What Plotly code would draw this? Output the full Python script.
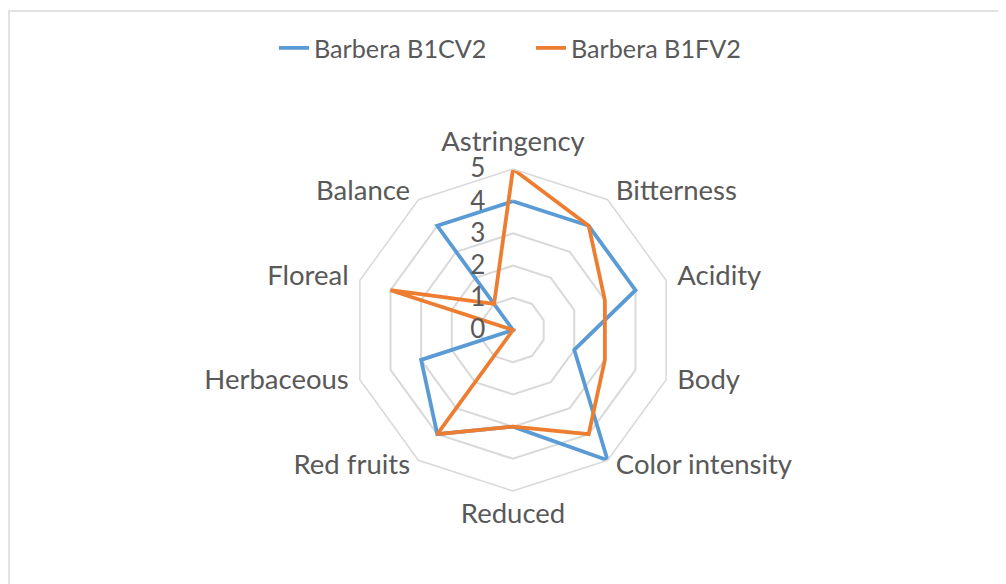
import plotly.graph_objects as go

categories = ["Astringency", "Bitterness", "Acidity", "Body", "Color intensity",
              "Reduced", "Red fruits", "Herbaceous", "Floreal", "Balance"]
b1cv2 = [4, 4, 4, 2, 5, 3, 4, 3, 0, 4]
b1fv2 = [5, 4, 3, 3, 4, 3, 4, 0, 4, 1]
radial_ticks = [0, 1, 2, 3, 4, 5]
label_positions = ["top center", "middle right", "middle right", "middle right", "middle right",
                   "bottom center", "middle left", "middle left", "middle left", "middle left"]

FONT = "Lato"
TXT = "#595959"

fig = go.Figure()
fig.add_trace(go.Scatterpolar(r=b1cv2 + b1cv2[:1], theta=categories + categories[:1],
                              mode="lines", name="Barbera B1CV2",
                              line=dict(color="#5B9BD5", width=3.8)))
fig.add_trace(go.Scatterpolar(r=b1fv2 + b1fv2[:1], theta=categories + categories[:1],
                              mode="lines", name="Barbera B1FV2",
                              line=dict(color="#ED7D31", width=3.8)))
# category labels, Excel-style, on a slightly larger invisible polar overlay
fig.add_trace(go.Scatterpolar(r=[radial_ticks[-1]] * len(categories), theta=categories,
                              subplot="polar2",
                              mode="markers+text", text=categories,
                              textposition=label_positions, cliponaxis=False,
                              marker=dict(size=4, opacity=0), hoverinfo="skip",
                              showlegend=False,
                              textfont=dict(family=FONT, size=27.5, color=TXT)))

OFF = 8  # page body margin
cx, cy, R = 513 - OFF, 330 - OFF, 161
R2 = R * 1.05
W, H = 1006, 584


def dom(r):
    return dict(x=[(cx - r) / W, (cx + r) / W], y=[(H - cy - r) / H, (H - cy + r) / H])


fig.update_layout(
    width=W, height=H,
    margin=dict(l=0, r=0, t=0, b=0),
    paper_bgcolor="white", plot_bgcolor="white",
    font=dict(family=FONT, size=26, color=TXT),
    showlegend=True,
    legend=dict(orientation="h", x=(274 - OFF) / W, xanchor="left",
                y=1 - (48 - OFF) / H, yanchor="middle", entrywidth=212,
                font=dict(family=FONT, size=25.2, color=TXT)),
    polar=dict(
        domain=dom(R),
        bgcolor="white",
        gridshape="linear",
        angularaxis=dict(rotation=90, direction="clockwise", showgrid=False,
                         showline=True, linecolor="#D9D9D9", linewidth=1.5,
                         ticks="", showticklabels=False),
        radialaxis=dict(range=[0, 5], tickvals=radial_ticks, angle=90, tickangle=90,
                        showline=False, ticks="outside", ticklen=18,
                        tickcolor="rgba(0,0,0,0)", gridcolor="#D9D9D9", gridwidth=1.5,
                        side="counterclockwise",
                        tickfont=dict(family=FONT, size=26, color=TXT)),
    ),
    polar2=dict(
        domain=dom(R2),
        bgcolor="rgba(0,0,0,0)",
        gridshape="linear",
        angularaxis=dict(rotation=90, direction="clockwise", showgrid=False,
                         showline=False, ticks="", showticklabels=False),
        radialaxis=dict(range=[0, 5], visible=False, showgrid=False),
    ),
    shapes=[dict(type="rect", xref="paper", yref="paper",
                 x0=(9 - OFF) / W, x1=1.2, y0=-0.2, y1=1 - (11 - OFF) / H,
                 line=dict(color="#D9D9D9", width=1.5), fillcolor="rgba(0,0,0,0)")],
)
fig.write_html("out.html")
